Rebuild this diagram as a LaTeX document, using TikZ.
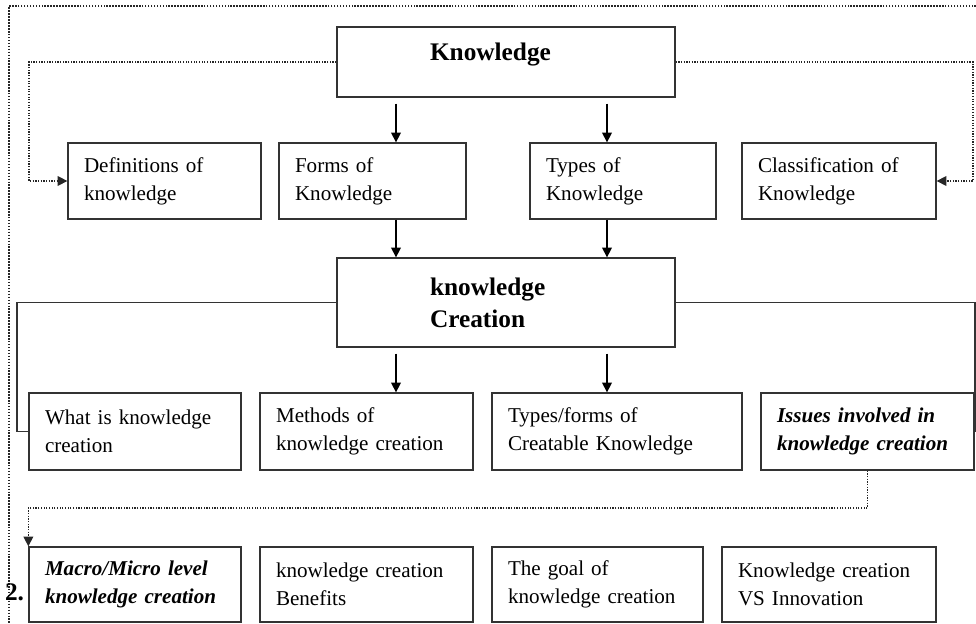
\documentclass[tikz,border=0pt]{standalone}
\usepackage{fontspec}
\setmainfont{Liberation Serif}
\usetikzlibrary{arrows.meta}

\begin{document}
\begin{tikzpicture}
\tikzset{boite/.style={draw=black!80, line width=0.9pt, text width=#1, align=left, inner xsep=0.4cm, font=\fontsize{15}{19.9}\selectfont},
titre/.style={draw=black!80, line width=0.9pt, text width=3.8cm, inner xsep=2.325cm, align=left, font=\fontsize{18}{22.7}\selectfont\bfseries},
fleche/.style={-{Triangle[length=7pt,width=7pt]}, line width=0.9pt},
pointille/.style={densely dotted, line width=1.1pt, draw=black!85}}
\useasboundingbox (0,0) rectangle (24.4,-15.6);
\draw[pointille] (24.4,-0.15) -- (0.225,-0.15) -- (0.225,-15.6);
\node[titre, minimum height=1.75cm, text depth=0.5cm] (K) at (12.65,-1.55) {Knowledge};
\node[boite=4.025cm, minimum height=1.9cm] (Def) at (4.1125,-4.525) {Definitions of\\knowledge};
\node[boite=3.875cm, minimum height=1.9cm] (For) at (9.3125,-4.525) {Forms of\\Knowledge};
\node[boite=3.85cm, minimum height=1.9cm] (Typ) at (15.575,-4.525) {Types of\\Knowledge};
\node[boite=4.05cm, minimum height=1.9cm] (Cla) at (20.975,-4.525) {Classification of\\Knowledge};
\node[titre, minimum height=2.225cm] (KC) at (12.65,-7.5625) {knowledge\\Creation};
\node[boite=4.5cm, minimum height=1.925cm] (Wha) at (3.375,-10.7875) {What is knowledge\\creation};
\node[boite=4.525cm, minimum height=1.925cm] (Met) at (9.1625,-10.7875) {Methods of\\knowledge creation};
\node[boite=5.45cm, minimum height=1.925cm] (Tyf) at (15.425,-10.7875) {Types/forms of\\Creatable Knowledge};
\node[boite=4.525cm, minimum height=1.925cm] (Iss) at (21.6875,-10.7875) {\bfseries\itshape Issues involved in\\knowledge creation};
\node[boite=4.5cm, minimum height=1.875cm] (Mac) at (3.375,-14.6125) {\bfseries\itshape Macro/Micro level\\knowledge creation};
\node[boite=4.525cm, minimum height=1.875cm] (Ben) at (9.1625,-14.6125) {knowledge creation\\Benefits};
\node[boite=4.475cm, minimum height=1.875cm] (Goa) at (14.9375,-14.6125) {The goal of\\knowledge creation};
\node[boite=4.55cm, minimum height=1.875cm] (Inn) at (20.725,-14.6125) {Knowledge creation\\VS Innovation};
\node[font=\fontsize{18}{20}\selectfont\bfseries, anchor=west, inner sep=0pt] (num) at (0.12,-14.8) {2.};
\coordinate (colA) at (9.9,0);
\coordinate (colB) at (15.175,0);
\coordinate (gK) at (0.725,-1.55);
\coordinate (dK) at (24.325,-1.55);
\coordinate (gC) at (0.425,-7.5625);
\coordinate (dC) at (24.375,-7.5625);
\coordinate (bas) at (0,-12.7);
\draw[pointille, fleche] (K.west) -- (gK) |- (Def.west);
\draw[pointille, fleche] (K.east) -- (dK) |- (Cla.east);
\draw[fleche, shorten <=0.15cm] (K.south -| colA) -- (For.north -| colA);
\draw[fleche, shorten <=0.15cm] (K.south -| colB) -- (Typ.north -| colB);
\draw[fleche] (For.south -| colA) -- (KC.north -| colA);
\draw[fleche] (Typ.south -| colB) -- (KC.north -| colB);
\draw[fleche, shorten <=0.15cm] (KC.south -| colA) -- (Met.north -| colA);
\draw[fleche, shorten <=0.15cm] (KC.south -| colB) -- (Tyf.north -| colB);
\draw[line width=0.9pt, draw=black!80] (KC.west) -- (gC) |- (Wha.west);
\draw[line width=0.9pt, draw=black!80] (KC.east) -- (dC) |- (Iss.east);
\draw[pointille, fleche] (Iss.south) -- (Iss.south |- bas) -| (Mac.north west);
\end{tikzpicture}
\end{document}
